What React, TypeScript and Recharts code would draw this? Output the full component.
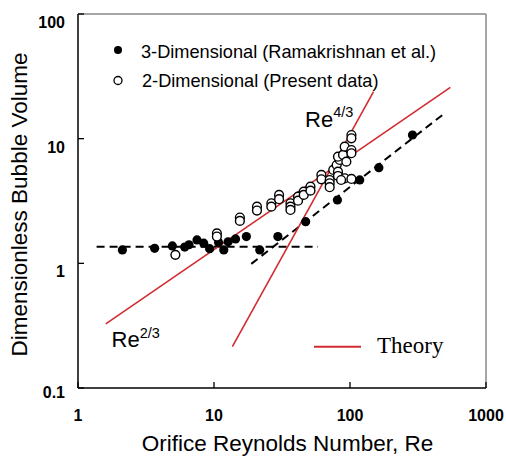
import React from "react";
import {
  ScatterChart,
  Scatter,
  XAxis,
  YAxis,
  ReferenceLine,
} from "recharts";

// 3-D data (Ramakrishnan et al.)
const re3D = [2.12, 3.66, 4.94, 6.09, 6.55, 7.5, 8.4, 9.29, 10.8, 11.8, 12.7, 14.4, 17.3, 21.7, 29.5, 47.2, 80.8, 117.9, 163, 288];
const vol3D = [1.28, 1.32, 1.38, 1.35, 1.41, 1.54, 1.45, 1.31, 1.47, 1.28, 1.49, 1.57, 1.64, 1.28, 1.64, 2.16, 3.22, 4.67, 5.85, 10.7];

// 2-D data (present data)
const re2D = [
  5.2, 10.5, 10.5, 15.5, 15.5, 20.7, 20.7, 26.4, 26.4, 30.1, 30.1, 36.5, 36.5, 36.5,
  41.5, 41.5, 45.7, 45.7, 51.2, 51.2, 61.6, 61.6, 70.9, 70.9, 70.9, 75.3, 79.8, 81.6,
  81.6, 84, 81.6, 88.9, 91.4, 94, 91.4, 102.4, 102.4, 102.4, 102.4, 102.4, 86,
];
const vol2D = [
  1.17, 1.74, 1.64, 2.33, 2.19, 2.85, 2.65, 3.03, 2.85, 3.54, 3.27, 3.03, 2.85, 2.68,
  3.43, 3.18, 3.76, 3.54, 4.12, 3.83, 5.12, 4.72, 4.66, 4.39, 4.08, 5.61, 6.15, 5.44,
  5.02, 6.75, 7.17, 7.4, 8.63, 6.54, 4.81, 10.7, 10.07, 8.11, 7.64, 4.75, 4.66,
];

// theory lines (Re^2/3 and Re^4/3) and dashed fits, endpoints
const theoryLowRe = [1.6, 547];
const theoryLowVol = [0.327, 25.8];
const theoryHighRe = [13.65, 149];
const theoryHighVol = [0.215, 23.8];
const flatFitRe = [1.37, 58.2];
const flatFitVol = [1.36, 1.36];
const slopeFitRe = [18.8, 497];
const slopeFitVol = [0.99, 16.0];

const xTicks = [1, 10, 100, 1000];
const yTicks = [0.1, 1, 10, 100];

const RED = "#d22b30";
const SANS = "'Liberation Sans', Arial, sans-serif";

const data3D = re3D.map((x, i) => ({ x, y: vol3D[i] }));
const data2D = re2D.map((x, i) => ({ x, y: vol2D[i] }));

const seg = (xs: number[], ys: number[]) => [
  { x: xs[0], y: ys[0] },
  { x: xs[1], y: ys[1] },
];

const FilledDot = (props: any) => <circle cx={props.cx} cy={props.cy} r={4.6} fill="#000" />;
const OpenDot = (props: any) => (
  <circle cx={props.cx} cy={props.cy} r={4.4} fill="#fff" stroke="#000" strokeWidth={1.4} />
);

// ticks point inward, drawn with the label
const XTick = (props: any) => (
  <g>
    <line x1={props.x} y1={388} x2={props.x} y2={382} stroke="#000" strokeWidth={1.3} />
    <text x={props.x} y={421} textAnchor="middle" fontFamily={SANS} fontSize={16} fontWeight="bold" fill="#000">
      {props.payload.value}
    </text>
  </g>
);

const YTick = (props: any) => (
  <g>
    <line x1={78} y1={props.y} x2={84} y2={props.y} stroke="#000" strokeWidth={1.3} />
    <text
      x={65}
      y={props.y + (props.payload.value === 0.1 ? 10 : 14)}
      textAnchor="end"
      fontFamily={SANS}
      fontSize={16}
      fontWeight="bold"
      fill="#000"
    >
      {props.payload.value}
    </text>
  </g>
);

export default function App() {
  return (
    <div style={{ position: "absolute", left: 0, top: 0, width: 506, height: 456, background: "#fff" }}>
      <ScatterChart width={506} height={456} margin={{ top: 14, right: 20, left: 0, bottom: 0 }}>
        <XAxis
          dataKey="x"
          type="number"
          scale="log"
          domain={[1, 1000]}
          ticks={xTicks}
          allowDataOverflow
          height={68}
          axisLine={{ stroke: "#000", strokeWidth: 1.5 }}
          tickLine={false}
          tick={<XTick />}
        />
        <YAxis
          dataKey="y"
          type="number"
          scale="log"
          domain={[0.1, 100]}
          ticks={yTicks}
          allowDataOverflow
          width={78}
          axisLine={{ stroke: "#000", strokeWidth: 1.5 }}
          tickLine={false}
          tick={<YTick />}
        />
        <ReferenceLine y={100} stroke="#888" strokeWidth={1.5} />
        <ReferenceLine x={1000} stroke="#888" strokeWidth={1.5} />
        <ReferenceLine segment={seg(flatFitRe, flatFitVol)} stroke="#000" strokeWidth={2} strokeDasharray="8 5" />
        <ReferenceLine segment={seg(slopeFitRe, slopeFitVol)} stroke="#000" strokeWidth={2} strokeDasharray="8 5" />
        <Scatter data={data3D} shape={<FilledDot />} isAnimationActive={false} />
        <Scatter data={data2D} shape={<OpenDot />} isAnimationActive={false} />
        <ReferenceLine segment={seg(theoryLowRe, theoryLowVol)} stroke={RED} strokeWidth={1.6} />
        <ReferenceLine segment={seg(theoryHighRe, theoryHighVol)} stroke={RED} strokeWidth={1.6} />
      </ScatterChart>
      <svg
        width={506}
        height={456}
        style={{ position: "absolute", left: 0, top: 0, pointerEvents: "none" }}
      >
        {/* legend */}
        <circle cx={118} cy={50} r={4} fill="#000" />
        <text x={141} y={57.5} fontFamily={SANS} fontSize={18.2} fill="#000">
          3-Dimensional (Ramakrishnan et al.)
        </text>
        <circle cx={118} cy={80.5} r={4} fill="#fff" stroke="#000" strokeWidth={1.3} />
        <text x={142} y={87} fontFamily={SANS} fontSize={18.2} fill="#000">
          2-Dimensional (Present data)
        </text>
        {/* annotations */}
        <text x={305} y={126.7} fontFamily={SANS} fontSize={22} fill="#000">
          Re<tspan fontSize={14.5} dy={-9.4}>4/3</tspan>
        </text>
        <text x={111.5} y={346.7} fontFamily={SANS} fontSize={22} fill="#000">
          Re<tspan fontSize={14.5} dy={-8.4}>2/3</tspan>
        </text>
        <line x1={314} y1={346.7} x2={361} y2={346.7} stroke={RED} strokeWidth={2} />
        <text x={377} y={353.3} fontFamily="'Liberation Serif', 'Times New Roman', serif" fontSize={23} fill="#000">
          Theory
        </text>
        {/* axis titles */}
        <text x={287.5} y={450.5} textAnchor="middle" fontFamily={SANS} fontSize={22.5} fill="#000">
          Orifice Reynolds Number, Re
        </text>
        <text
          transform="translate(27,204.5) rotate(-90)"
          textAnchor="middle"
          fontFamily={SANS}
          fontSize={22.5}
          fill="#000"
        >
          Dimensionless Bubble Volume
        </text>
      </svg>
    </div>
  );
}
